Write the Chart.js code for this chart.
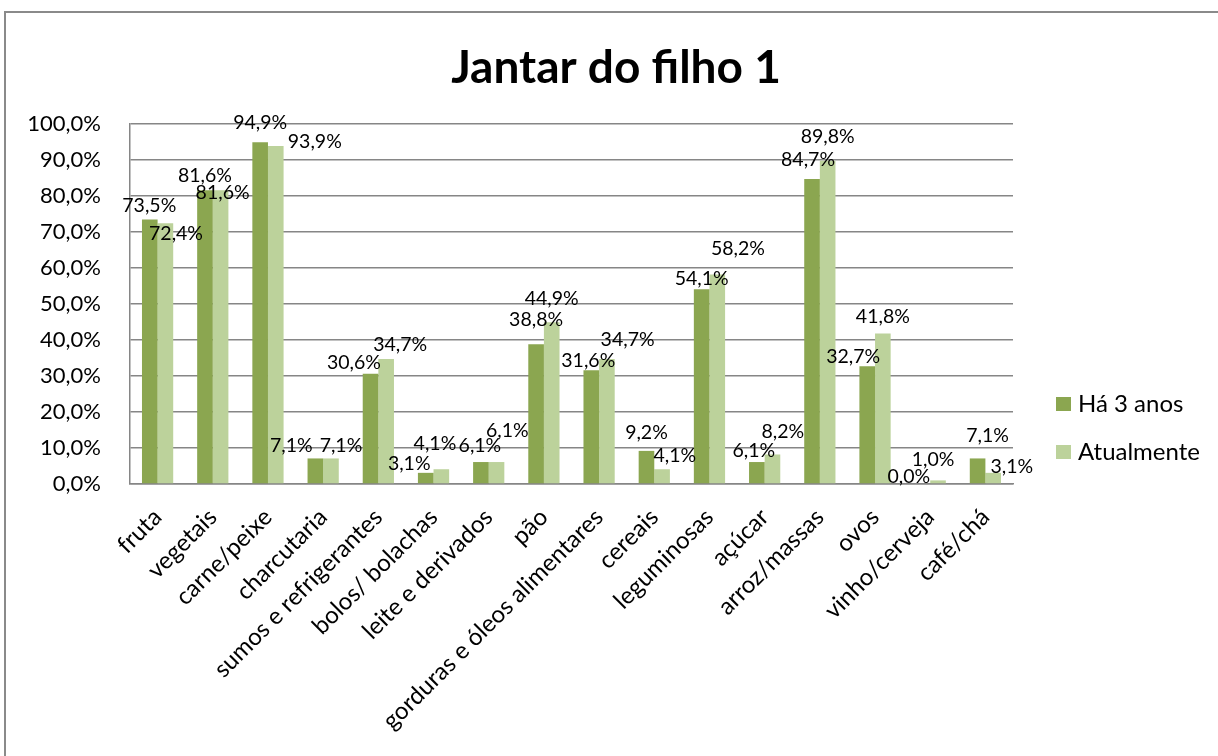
<!DOCTYPE html>
<html>
<head>
<meta charset="utf-8">
<script src="https://cdn.jsdelivr.net/npm/chart.js@4"></script>
<style>
  html, body { margin: 0; padding: 0; background: #fff; }
  #wrap { position: relative; width: 1218px; height: 756px; overflow: hidden; }
  #frame { position: absolute; left: 4px; top: 11px; width: 1300px; height: 800px;
           border-top: 2px solid #8a8a8a; border-left: 2px solid #8a8a8a; }
  canvas { position: absolute; left: 0; top: 0; }
</style>
</head>
<body>
<div id="wrap">
  <div id="frame"></div>
  <canvas id="c" width="1218" height="756"></canvas>
</div>
<script>
const categories = ["fruta", "vegetais", "carne/peixe", "charcutaria", "sumos e refrigerantes",
  "bolos/ bolachas", "leite e derivados", "pão", "gorduras e óleos alimentares", "cereais",
  "leguminosas", "açúcar", "arroz/massas", "ovos", "vinho/cerveja", "café/chá"];
const seriesNames = ["Há 3 anos", "Atualmente"];
const ha3anos = [73.5, 81.6, 94.9, 7.1, 30.6, 3.1, 6.1, 38.8, 31.6, 9.2, 54.1, 6.1, 84.7, 32.7, 0.0, 7.1];
const atualmente = [72.4, 81.6, 93.9, 7.1, 34.7, 4.1, 6.1, 44.9, 34.7, 4.1, 58.2, 8.2, 89.8, 41.8, 1.0, 3.1];
const yTicks = [0, 10, 20, 30, 40, 50, 60, 70, 80, 90, 100];
const chartTitle = "Jantar do filho 1";

// label nudges (style only): pixel offsets from each bar's top centre, as in the original layout
const labelNudge = [
  { dx: [-0.5, 0, 0, -24, -16.6, -16.5, -1, 0, -3, 0, 0, -3, -4, -14, -13.6, 10],
    dy: [-13.4, -15, -19.5, -13, -10.7, -9, -16, -24.5, -10, -18.6, -11, -11, -19, -10, -7.3, -22.5] },
  { dx: [10.6, 2, 39, 10, 14, -6.4, 10.7, 0, 20.7, 12.8, 20.6, 10.4, 0, 0, -5, 18.6],
    dy: [10.6, 2, -4, -13, -14, -26, -31, -23.3, -19.3, -14, -26, -23, -24.5, -16.4, -21, -6] }
];

const fmt = v => v.toFixed(1).replace('.', ',') + '%';
const FONT = 'Lato, "Open Sans", sans-serif';

const valueLabels = {
  id: 'valueLabels',
  afterDatasetsDraw(chart) {
    const ctx = chart.ctx;
    ctx.save();
    ctx.font = '19.5px ' + FONT;
    ctx.fillStyle = '#000';
    ctx.textAlign = 'center';
    ctx.textBaseline = 'middle';
    chart.data.datasets.forEach((ds, di) => {
      const meta = chart.getDatasetMeta(di);
      meta.data.forEach((el, i) => {
        const n = labelNudge[di];
        ctx.fillText(fmt(ds.data[i]), el.x + n.dx[i], el.y + n.dy[i]);
      });
    });
    ctx.restore();
  }
};

const topTitle = {
  id: 'topTitle',
  afterDraw(chart) {
    const ctx = chart.ctx;
    ctx.save();
    ctx.font = 'bold 46px ' + FONT;
    ctx.fillStyle = '#000';
    ctx.textAlign = 'center';
    ctx.textBaseline = 'middle';
    ctx.fillText(chartTitle, 616, 68);
    ctx.restore();
  }
};

const sideLegend = {
  id: 'sideLegend',
  afterDraw(chart) {
    const ctx = chart.ctx;
    const a = chart.chartArea;
    ctx.save();
    ctx.font = '24px ' + FONT;
    ctx.textBaseline = 'middle';
    ctx.textAlign = 'left';
    const x0 = a.right + 43;
    const yc = (a.top + a.bottom) / 2;
    const rows = [yc + 100, yc + 148];
    chart.data.datasets.forEach((ds, i) => {
      const y = rows[i];
      ctx.fillStyle = ds.backgroundColor;
      ctx.fillRect(x0, y - 7, 15, 14);
      ctx.fillStyle = '#000';
      ctx.fillText(ds.label, x0 + 22, y);
    });
    ctx.restore();
  }
};

new Chart(document.getElementById('c'), {
  type: 'bar',
  data: {
    labels: categories,
    datasets: [
      { label: seriesNames[0], data: ha3anos, backgroundColor: '#8ba650',
        categoryPercentage: 0.566, barPercentage: 1.0 },
      { label: seriesNames[1], data: atualmente, backgroundColor: '#bcd29b',
        categoryPercentage: 0.566, barPercentage: 1.0 }
    ]
  },
  options: {
    responsive: false,
    animation: false,
    layout: { padding: { top: 124, left: 0, right: 205, bottom: 0 } },
    plugins: {
      legend: { display: false },
      tooltip: { enabled: false },
      title: { display: false }
    },
    scales: {
      x: {
        grid: { display: false, drawTicks: false },
        border: { display: true, color: '#868686', width: 1.5 },
        ticks: {
          color: '#000',
          font: { family: FONT, size: 24 },
          minRotation: 45, maxRotation: 45,
          autoSkip: false,
          padding: 19
        },
        afterFit(scale) { scale.height = 756 - 484; }
      },
      y: {
        min: 0, max: 100,
        afterBuildTicks(scale) { scale.ticks = yTicks.map(v => ({ value: v })); },
        grid: { color: '#868686', lineWidth: 1.5, drawTicks: false },
        border: { display: true, color: '#868686', width: 1.5 },
        ticks: {
          color: '#000',
          font: { family: FONT, size: 22 },
          padding: 29,
          callback: v => fmt(v)
        },
        afterFit(scale) { scale.width = 130; }
      }
    }
  },
  plugins: [valueLabels, topTitle, sideLegend]
});
</script>
</body>
</html>
